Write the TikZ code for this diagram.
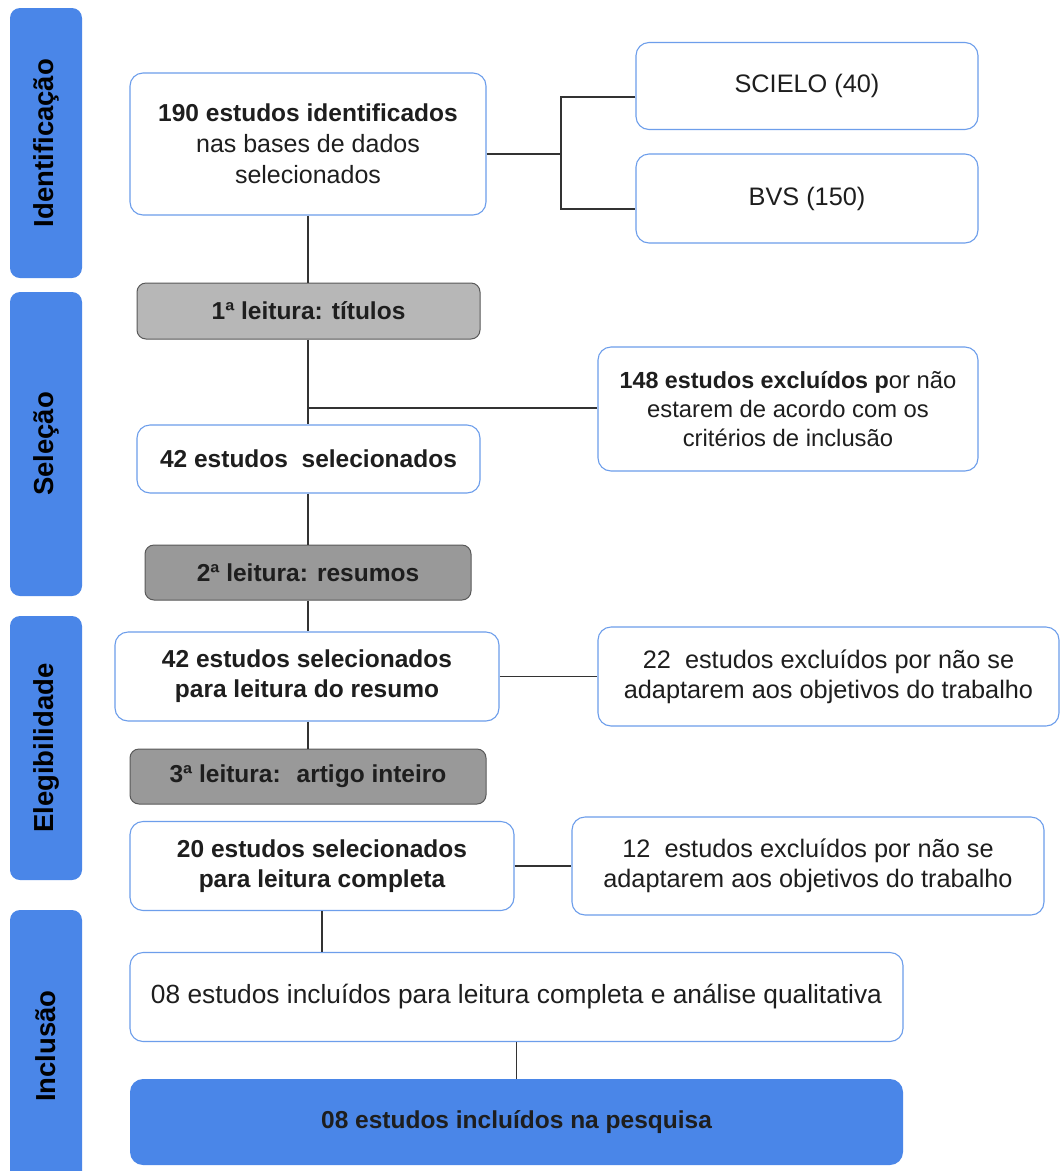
\documentclass[tikz,border=0pt]{standalone}
\usepackage{fontspec}
\setmainfont{Liberation Sans}
\definecolor{barblue}{HTML}{4A86E8}
\definecolor{edgeblue}{HTML}{6D9EEB}
\definecolor{grayA}{HTML}{B7B7B7}
\definecolor{grayB}{HTML}{999999}
\definecolor{grayedge}{HTML}{595959}
\definecolor{txt}{HTML}{1E1E1E}
\newcommand{\regfont}{\fontsize{25.3}{30}\selectfont}
\newcommand{\boldfont}{\fontsize{24.5}{30}\selectfont\bfseries}
\begin{document}
\begin{tikzpicture}[x=1pt,y=-1pt,
  every node/.style={inner sep=0pt, align=center, text=txt, font=\regfont},
  wbox/.style={draw=edgeblue, fill=white, rounded corners=13pt, line width=1.1pt},
  bbox/.style={wbox, font=\boldfont},
  gbox/.style={draw=grayedge, rounded corners=9pt, line width=1pt, font=\boldfont},
  sidebar/.style={fill=barblue, rounded corners=10pt, rotate=90, text=black, font=\fontsize{27.5}{30}\selectfont\bfseries},
  link/.style={draw=black!80, line width=1.3pt}]
\useasboundingbox[fill=white] (0,0) rectangle (1060,1171);

% side bars
\node[sidebar, minimum width=270pt, minimum height=72pt] (bid) at (46,143) {Identificação};
\node[sidebar, minimum width=304pt, minimum height=72pt] (bsel) at (46,444) {Seleção};
\node[sidebar, minimum width=264pt, minimum height=72pt] (bele) at (46,748) {Elegibilidade};
\node[sidebar, minimum width=272pt, minimum height=72pt] (binc) at (46,1046) {Inclusão};

% boxes
\node[wbox, minimum width=356pt, minimum height=142pt, font=\fontsize{25}{31}\selectfont] (n190) at (308,144)
  {{\boldfont 190 estudos identificados}\\nas bases de dados\\selecionados};
\node[wbox, minimum width=342pt, minimum height=87pt] (scielo) at (807,86) {SCIELO (40)};
\node[wbox, minimum width=342pt, minimum height=89pt] (bvs) at (807,198.5) {BVS (150)};
\node[gbox, fill=grayA, minimum width=343pt, minimum height=56pt] (t1) at (308.5,311) {1ª leitura: títulos};
\node[wbox, minimum width=380pt, minimum height=124pt, font=\fontsize{23.8}{29}\selectfont] (e148) at (788,409)
  {{\fontsize{23.3}{29}\selectfont\bfseries 148 estudos excluídos p}or não\\estarem de acordo com os\\critérios de inclusão};
\node[bbox, minimum width=343pt, minimum height=68pt] (s42) at (308.5,459) {42 estudos~ selecionados};
\node[gbox, fill=grayB, minimum width=326pt, minimum height=55pt] (t2) at (308,572.5) {2ª leitura: resumos};
\node[bbox, minimum width=384pt, minimum height=89pt] (r42) at (307,676.5)
  {42 estudos selecionados\\para leitura do resumo};
\node[wbox, minimum width=461pt, minimum height=99pt] (e22) at (828.5,676.5)
  {22~ estudos excluídos por não se\\adaptarem aos objetivos do trabalho};
\node[gbox, fill=grayB, minimum width=356pt, minimum height=55pt] (t3) at (308,776.5) {3ª leitura:~ artigo inteiro};
\node[bbox, minimum width=384pt, minimum height=89pt] (c20) at (322,866)
  {20 estudos selecionados\\para leitura completa};
\node[wbox, minimum width=472pt, minimum height=98pt] (e12) at (808,866)
  {12~ estudos excluídos por não se\\adaptarem aos objetivos do trabalho};
\node[wbox, minimum width=773pt, minimum height=89pt, font=\fontsize{26.3}{30}\selectfont] (i08) at (516.5,997)
  {08 estudos incluídos para leitura completa e análise qualitativa};
\node[fill=barblue, rounded corners=13pt, font=\boldfont, minimum width=773pt, minimum height=86pt] (p08) at (516.5,1122)
  {08 estudos incluídos na pesquisa};

% junctions
\coordinate (j0) at (561,154);
\coordinate (ja) at (561,97);
\coordinate (jb) at (561,209);
\coordinate (j2) at (308,408);

% connectors
\draw[link] (j0 -| n190.east) -- (j0);
\draw[link] (ja -| scielo.west) -- (ja) -- (jb) -- (jb -| bvs.west);
\draw[link] (n190.south) -- (n190.south |- t1.north);
\draw[link] (n190.south |- t1.south) -- (n190.south |- s42.north);
\draw[link] (j2) -- (j2 -| e148.west);
\draw[link] (n190.south |- s42.south) -- (n190.south |- t2.north);
\draw[link] (n190.south |- t2.south) -- (n190.south |- r42.north);
\draw[link] (r42.east) -- (r42.east -| e22.west);
\draw[link] (n190.south |- r42.south) -- (n190.south |- t3.north);
\draw[link] (c20.east) -- (c20.east -| e12.west);
\draw[link] (c20.south) -- (c20.south |- i08.north);
\draw[link] (i08.south) -- (p08.north);
\end{tikzpicture}
\end{document}
